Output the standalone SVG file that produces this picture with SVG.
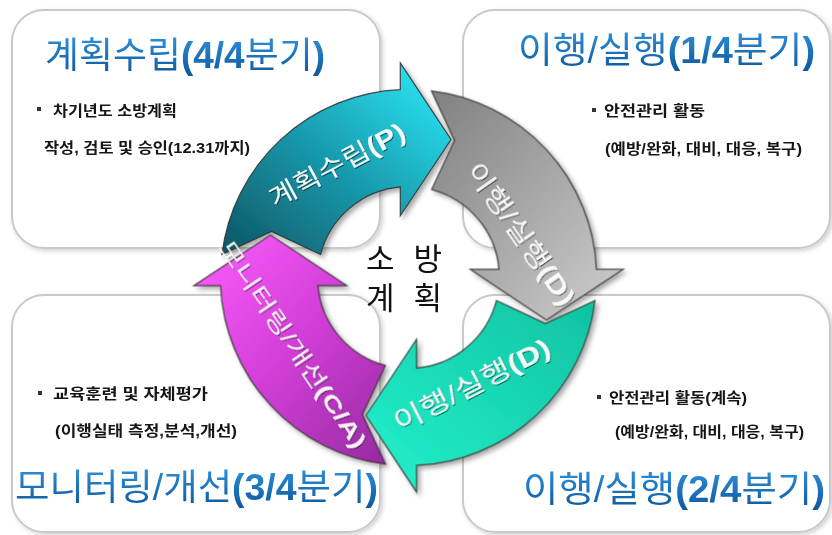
<svg xmlns="http://www.w3.org/2000/svg" width="832" height="535" viewBox="0 0 832 535">
<defs>
<style>
.box{fill:#ffffff;stroke:#c9c9c9;stroke-width:2}
.title{font-family:"Liberation Sans","Noto Sans CJK KR",sans-serif;font-size:36px;fill:url(#tg)}
.b{font-weight:bold}
.txt{font-family:"Liberation Sans","Noto Sans CJK KR",sans-serif;font-size:15px;font-weight:bold;fill:#151515}
.bul{fill:#333333}
.arrow{stroke:#2e2e2e;stroke-width:1.2;stroke-opacity:0.85}
.atxt{font-family:"Liberation Sans","Noto Sans CJK KR",sans-serif;fill:#ffffff;fill-opacity:0.93;text-anchor:middle;dominant-baseline:central}
.ctr{font-family:"Liberation Sans","Noto Sans CJK KR",sans-serif;font-size:31px;fill:#111111;text-anchor:middle}
</style>
<linearGradient id="tg" x1="0" y1="0" x2="0" y2="1">
<stop offset="0" stop-color="#2f90da"/>
<stop offset="1" stop-color="#0c589e"/>
</linearGradient>
<linearGradient id="gTeal" x1="0" y1="1" x2="1" y2="0">
<stop offset="0" stop-color="#0e5563"/>
<stop offset="0.45" stop-color="#1795a8"/>
<stop offset="1" stop-color="#2cf0ff"/>
</linearGradient>
<linearGradient id="gGray" x1="0" y1="1" x2="1" y2="0">
<stop offset="0" stop-color="#808080"/>
<stop offset="1" stop-color="#cfcfcf"/>
</linearGradient>
<linearGradient id="gGreen" x1="0" y1="1" x2="1" y2="0">
<stop offset="0" stop-color="#10c2a2"/>
<stop offset="1" stop-color="#24f2cc"/>
</linearGradient>
<linearGradient id="gMag" x1="0" y1="1" x2="1" y2="0">
<stop offset="0" stop-color="#962aa0"/>
<stop offset="0.5" stop-color="#d23ed8"/>
<stop offset="1" stop-color="#ff5eff"/>
</linearGradient>
<filter id="sh" x="-10%" y="-10%" width="125%" height="125%">
<feDropShadow dx="3" dy="3" stdDeviation="2.5" flood-color="#000" flood-opacity="0.35"/>
</filter>
<filter id="bsh" x="-5%" y="-5%" width="112%" height="112%">
<feDropShadow dx="2" dy="2" stdDeviation="2" flood-color="#000" flood-opacity="0.18"/>
</filter>
<filter id="tsh" x="-10%" y="-20%" width="120%" height="140%">
<feDropShadow dx="1" dy="1" stdDeviation="0.6" flood-color="#000" flood-opacity="0.55"/>
</filter>
<path id="arr" d="M-186.6,-23 A188,188 0 0 1 -8.2,-187.8 L-8.2,-214.7 L42.5,-138 L-8.2,-61.7 L-8.2,-90.6 A91,91 0 0 0 -88,-23 L-137,-46 Z"/>
</defs>

<rect width="832" height="535" fill="#ffffff"/>

<g id="box-plan" filter="url(#bsh)">
<rect class="box" x="12" y="10" width="368" height="238" rx="32"/>
<text class="title" x="45" y="68" textLength="280" lengthAdjust="spacingAndGlyphs">계획수립<tspan class="b">(4/4</tspan>분기<tspan class="b">)</tspan></text>
<rect class="bul" x="37" y="107" width="4" height="4"/>
<text class="txt" x="53" y="116" textLength="124" lengthAdjust="spacingAndGlyphs">차기년도 소방계획</text>
<text class="txt" x="44" y="153" textLength="206" lengthAdjust="spacingAndGlyphs">작성, 검토 및 승인(12.31까지)</text>
</g>

<g id="box-do1" filter="url(#bsh)">
<rect class="box" x="463" y="10" width="367" height="238" rx="32"/>
<text class="title" x="518" y="63" textLength="297" lengthAdjust="spacingAndGlyphs">이행/실행<tspan class="b">(1/4</tspan>분기<tspan class="b">)</tspan></text>
<rect class="bul" x="592" y="108" width="4" height="4"/>
<text class="txt" x="604" y="116" textLength="101" lengthAdjust="spacingAndGlyphs">안전관리 활동</text>
<text class="txt" x="605" y="154" textLength="197" lengthAdjust="spacingAndGlyphs">(예방/완화, 대비, 대응, 복구)</text>
</g>

<g id="box-check" filter="url(#bsh)">
<rect class="box" x="12" y="295" width="368" height="237" rx="32"/>
<rect class="bul" x="38" y="391" width="4" height="4"/>
<text class="txt" x="53" y="399" textLength="155" lengthAdjust="spacingAndGlyphs">교육훈련 및 자체평가</text>
<text class="txt" x="55" y="436" textLength="182" lengthAdjust="spacingAndGlyphs">(이행실태 측정,분석,개선)</text>
<text class="title" x="15" y="500" textLength="363" lengthAdjust="spacingAndGlyphs">모니터링/개선<tspan class="b">(3/4</tspan>분기<tspan class="b">)</tspan></text>
</g>

<g id="box-do2" filter="url(#bsh)">
<rect class="box" x="463" y="295" width="367" height="237" rx="32"/>
<rect class="bul" x="597" y="395" width="4" height="4"/>
<text class="txt" x="609" y="403" textLength="138" lengthAdjust="spacingAndGlyphs">안전관리 활동(계속)</text>
<text class="txt" x="615" y="437" textLength="189" lengthAdjust="spacingAndGlyphs">(예방/완화, 대비, 대응, 복구)</text>
<text class="title" x="523" y="502" textLength="302" lengthAdjust="spacingAndGlyphs">이행/실행<tspan class="b">(2/4</tspan>분기<tspan class="b">)</tspan></text>
</g>

<g id="connectors" filter="url(#sh)">
<g id="arrow-plan" transform="translate(408.5,277.5)">
<use href="#arr" class="arrow" fill="url(#gTeal)"/>
</g>
<g id="arrow-do1" transform="translate(408.5,277.5) rotate(90)">
<use href="#arr" class="arrow" fill="url(#gGray)"/>
</g>
<g id="arrow-do2" transform="translate(408.5,277.5) rotate(180)">
<use href="#arr" class="arrow" fill="url(#gGreen)"/>
</g>
<g id="arrow-check" transform="translate(408.5,277.5) rotate(270)">
<use href="#arr" class="arrow" fill="url(#gMag)"/>
</g>
</g>

<g id="arrow-labels" filter="url(#tsh)">
<text class="atxt" font-size="26" transform="translate(337,165) rotate(-28)" textLength="150" lengthAdjust="spacingAndGlyphs">계획수립<tspan class="b">(P)</tspan></text>
<text class="atxt" font-size="25" transform="translate(521,234) rotate(55)" textLength="168" lengthAdjust="spacingAndGlyphs">이행/실행<tspan class="b">(D)</tspan></text>
<text class="atxt" font-size="26" transform="translate(472,385) rotate(-27)" textLength="172" lengthAdjust="spacingAndGlyphs">이행/실행<tspan class="b">(D)</tspan></text>
<text class="atxt" font-size="22" transform="translate(293,344) rotate(56)" textLength="245" lengthAdjust="spacingAndGlyphs">모니터링/개선<tspan class="b">(C/A)</tspan></text>
</g>

<g id="center">
<text class="ctr" x="404" y="270" textLength="76" lengthAdjust="spacing">소 방</text>
<text class="ctr" x="404" y="309" textLength="76" lengthAdjust="spacing">계 획</text>
</g>
</svg>
